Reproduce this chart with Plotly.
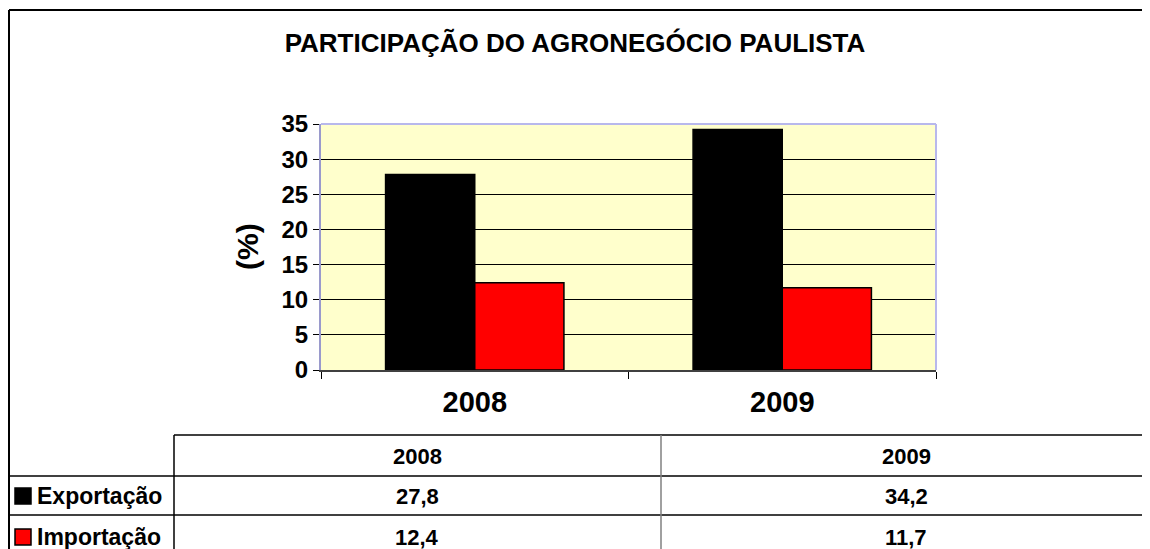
import plotly.graph_objects as go

# data
years = ["2008", "2009"]
exportacao = [27.8, 34.2]
importacao = [12.4, 11.7]
series_names = ["Exportação", "Importação"]
series_colors = ["#000000", "#FF0000"]

W, H = 1150, 549
OFF = 8  # page body margin, positions below are measured on the page
FONT = "Liberation Sans, Arial, sans-serif"


def px(x):
    return (x - OFF) / W


def py(y):
    return 1 - (y - OFF) / H


def fmt(v):
    return f"{v:.1f}".replace(".", ",")


fig = go.Figure()

for name, vals, col in zip(series_names, [exportacao, importacao], series_colors):
    fig.add_trace(go.Bar(
        x=years, y=vals, name=name,
        marker=dict(color=col, line=dict(color="#000000", width=1.5)),
    ))

shapes = []
annotations = []

# outer chart border (right edge is cut off in the picture)
shapes.append(dict(type="line", xref="paper", yref="paper",
                   x0=px(9), x1=px(1160), y0=py(10), y1=py(10),
                   line=dict(color="#000000", width=2)))
shapes.append(dict(type="line", xref="paper", yref="paper",
                   x0=px(9), x1=px(9), y0=py(10), y1=py(560),
                   line=dict(color="#000000", width=2)))

# plot area frame (top / right)
shapes.append(dict(type="line", xref="paper", yref="paper",
                   x0=px(321), x1=px(936), y0=py(124), y1=py(124),
                   line=dict(color="#B8B8EC", width=2)))
shapes.append(dict(type="line", xref="paper", yref="paper",
                   x0=px(936), x1=px(936), y0=py(124), y1=py(370),
                   line=dict(color="#B8B8EC", width=2)))

# data table
tbl = dict(color="#000000", width=1.5)
shapes.append(dict(type="line", xref="paper", yref="paper",
                   x0=px(174), x1=px(1147), y0=py(435), y1=py(435), line=tbl))
for yy in [476, 515]:
    shapes.append(dict(type="line", xref="paper", yref="paper",
                       x0=px(9), x1=px(1147), y0=py(yy), y1=py(yy), line=tbl))
for xx, c in [(174, "#000000"), (661, "#808080"), (1147, "#000000")]:
    shapes.append(dict(type="line", xref="paper", yref="paper",
                       x0=px(xx), x1=px(xx), y0=py(435), y1=py(560),
                       line=dict(color=c, width=1.5)))

col_centers = [417, 906]
row_centers = [496, 537]
for yr, cx in zip(years, col_centers):
    annotations.append(dict(x=px(cx), y=py(456), xref="paper", yref="paper",
                            text=f"<b>{yr}</b>", showarrow=False,
                            xanchor="center", yanchor="middle",
                            font=dict(family=FONT, size=22, color="#000000")))

for i, (name, vals, col) in enumerate(zip(series_names, [exportacao, importacao], series_colors)):
    cy = row_centers[i]
    shapes.append(dict(type="rect", xref="paper", yref="paper",
                       x0=px(15), x1=px(31), y0=py(cy - 8), y1=py(cy + 8),
                       fillcolor=col, line=dict(color="#000000", width=1.5)))
    annotations.append(dict(x=px(35), y=py(cy), xref="paper", yref="paper",
                            text=f"<b>{name}</b>", showarrow=False,
                            xanchor="left", yanchor="middle",
                            font=dict(family=FONT, size=23, color="#000000")))
    for v, cx in zip(vals, col_centers):
        annotations.append(dict(x=px(cx), y=py(cy), xref="paper", yref="paper",
                                text=f"<b>{fmt(v)}</b>", showarrow=False,
                                xanchor="center", yanchor="middle",
                                font=dict(family=FONT, size=22, color="#000000")))

# y axis title
annotations.append(dict(x=px(247), y=py(247), xref="paper", yref="paper",
                        text="<b>(%)</b>", showarrow=False, textangle=-90,
                        xanchor="center", yanchor="middle",
                        font=dict(family=FONT, size=30, color="#000000")))

fig.update_layout(
    width=W, height=H, autosize=False,
    margin=dict(l=0, r=0, t=0, b=0, pad=0, autoexpand=False),
    paper_bgcolor="#FFFFFF",
    plot_bgcolor="#FFFFCC",
    showlegend=False,
    barmode="group",
    bargap=0.42,
    bargroupgap=0,
    title=dict(text="<b>PARTICIPAÇÃO DO AGRONEGÓCIO PAULISTA</b>",
               x=px(575), xanchor="center", y=py(43), yanchor="middle",
               font=dict(family=FONT, size=26, color="#000000")),
    font=dict(family=FONT, color="#000000"),
    xaxis=dict(domain=[px(321), px(936)], showgrid=False, automargin=False,
               showline=True, linecolor="#404040", linewidth=1.5,
               ticks="outside", tickson="boundaries", ticklen=7,
               tickcolor="#000000", tickwidth=1,
               tickfont=dict(family=FONT, size=29, color="#000000"),
               tickprefix="<b>", ticksuffix="</b>", ticklabelstandoff=5),
    yaxis=dict(domain=[py(370), py(124)], range=[0, 35], dtick=5,
               automargin=False,
               showgrid=True, gridcolor="#000000", gridwidth=1,
               zeroline=False, showline=True, linecolor="#9A9ACC", linewidth=2,
               ticks="outside", ticklen=6, tickcolor="#000000", tickwidth=1,
               tickfont=dict(family=FONT, size=24, color="#000000"),
               tickprefix="<b>", ticksuffix="</b>"),
    shapes=shapes,
    annotations=annotations,
)

fig.write_html("out.html")
